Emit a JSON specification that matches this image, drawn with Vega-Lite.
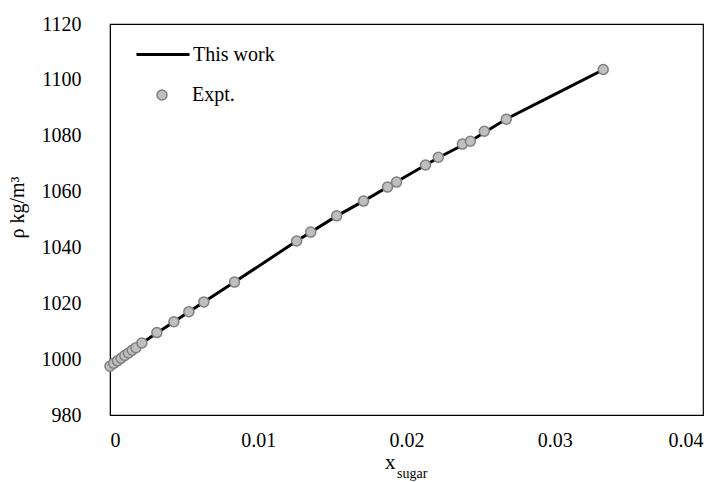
{
  "$schema": "https://vega.github.io/schema/vega-lite/v6.json",
  "autosize": "none",
  "width": 593,
  "height": 391,
  "padding": {"left": 110, "top": 24, "right": 21, "bottom": 67},
  "background": "white",
  "config": {
    "view": {"stroke": "black", "strokeWidth": 1.2},
    "font": "Liberation Serif",
    "axis": {"grid": false, "ticks": false, "domainColor": "black", "labelColor": "black", "titleColor": "black", "labelFont": "Liberation Serif", "titleFont": "Liberation Serif", "labelFontSize": 20, "titleFontSize": 20, "titleFontWeight": "normal"},
    "legend": {"labelFont": "Liberation Serif", "labelFontSize": 20, "labelColor": "black", "padding": 0}
  },
  "title": {"text": "sugar", "orient": "bottom", "anchor": "start", "frame": "group", "dx": 287, "offset": 6, "baseline": "alphabetic", "fontSize": 14, "font": "Liberation Serif", "fontWeight": "normal", "color": "black"},
  "datasets": {
    "model": [
      {"x": 0.0, "rho": 997.5, "series": "This work"},
      {"x": 0.00215, "rho": 1005.8, "series": "This work"},
      {"x": 0.00633, "rho": 1020.5, "series": "This work"},
      {"x": 0.0084, "rho": 1027.6, "series": "This work"},
      {"x": 0.01259, "rho": 1042.3, "series": "This work"},
      {"x": 0.0153, "rho": 1051.3, "series": "This work"},
      {"x": 0.0171, "rho": 1056.6, "series": "This work"},
      {"x": 0.0193, "rho": 1063.4, "series": "This work"},
      {"x": 0.0222, "rho": 1072.3, "series": "This work"},
      {"x": 0.0243, "rho": 1078.0, "series": "This work"},
      {"x": 0.0267, "rho": 1085.9, "series": "This work"},
      {"x": 0.03, "rho": 1094.8, "series": "This work"},
      {"x": 0.0333, "rho": 1103.7, "series": "This work"}
    ],
    "expt": [
      {"x": 0.0, "rho": 997.5, "series": "Expt."},
      {"x": 0.00025, "rho": 998.5, "series": "Expt."},
      {"x": 0.0005, "rho": 999.4, "series": "Expt."},
      {"x": 0.00075, "rho": 1000.3, "series": "Expt."},
      {"x": 0.001, "rho": 1001.3, "series": "Expt."},
      {"x": 0.00125, "rho": 1002.2, "series": "Expt."},
      {"x": 0.0015, "rho": 1003.2, "series": "Expt."},
      {"x": 0.00175, "rho": 1004.1, "series": "Expt."},
      {"x": 0.00215, "rho": 1005.8, "series": "Expt."},
      {"x": 0.00316, "rho": 1009.5, "series": "Expt."},
      {"x": 0.00431, "rho": 1013.4, "series": "Expt."},
      {"x": 0.00532, "rho": 1017.0, "series": "Expt."},
      {"x": 0.00633, "rho": 1020.5, "series": "Expt."},
      {"x": 0.0084, "rho": 1027.6, "series": "Expt."},
      {"x": 0.01259, "rho": 1042.3, "series": "Expt."},
      {"x": 0.01354, "rho": 1045.5, "series": "Expt."},
      {"x": 0.01529, "rho": 1051.3, "series": "Expt."},
      {"x": 0.0171, "rho": 1056.6, "series": "Expt."},
      {"x": 0.01872, "rho": 1061.6, "series": "Expt."},
      {"x": 0.01933, "rho": 1063.4, "series": "Expt."},
      {"x": 0.02128, "rho": 1069.5, "series": "Expt."},
      {"x": 0.02215, "rho": 1072.3, "series": "Expt."},
      {"x": 0.02377, "rho": 1077.0, "series": "Expt."},
      {"x": 0.02431, "rho": 1078.0, "series": "Expt."},
      {"x": 0.02525, "rho": 1081.6, "series": "Expt."},
      {"x": 0.02673, "rho": 1085.9, "series": "Expt."},
      {"x": 0.03327, "rho": 1103.7, "series": "Expt."}
    ]
  },
  "encoding": {
    "x": {"field": "x", "type": "quantitative", "scale": {"domain": [0, 0.04], "nice": false, "zero": false},
      "axis": {"values": [0, 0.01, 0.02, 0.03, 0.04], "format": "~g", "labelPadding": 15, "title": "x", "titleX": 285, "titleY": 53, "titleBaseline": "alphabetic", "titleAlign": "right", "titleFontSize": 21}},
    "y": {"field": "rho", "type": "quantitative", "scale": {"domain": [980, 1120], "nice": false, "zero": false},
      "axis": {"values": [980, 1000, 1020, 1040, 1060, 1080, 1100, 1120], "format": "d", "labelPadding": 29, "title": "ρ kg/m³", "titleX": -93, "titleY": 183, "titleAngle": -90, "titleBaseline": "middle", "titleAlign": "center"}}
  },
  "layer": [
    {
      "data": {"name": "model"},
      "mark": {"type": "line", "strokeWidth": 3},
      "encoding": {
        "stroke": {"field": "series", "type": "nominal", "scale": {"range": ["black"]},
          "legend": {"title": null, "orient": "none", "legendX": 25, "legendY": 2.5, "symbolType": "stroke", "symbolSize": 2809, "symbolStrokeWidth": 3, "labelOffset": 2}}
      }
    },
    {
      "data": {"name": "expt"},
      "mark": {"type": "point", "filled": true, "size": 100, "stroke": "#7F7F7F", "strokeWidth": 1.5, "opacity": 1},
      "encoding": {
        "fill": {"field": "series", "type": "nominal", "scale": {"range": ["#BFBFBF"]},
          "legend": {"title": null, "orient": "none", "legendX": 42, "legendY": 61, "symbolType": "circle", "symbolSize": 100, "symbolStrokeColor": "#7F7F7F", "symbolStrokeWidth": 1.5, "symbolOpacity": 1, "labelOffset": 20}}
      }
    }
  ]
}
